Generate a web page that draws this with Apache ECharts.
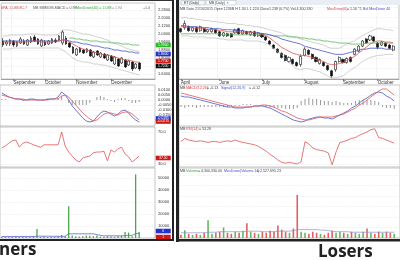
<!DOCTYPE html>
<html><head><meta charset="utf-8">
<script src="https://cdn.jsdelivr.net/npm/echarts@6/dist/echarts.min.js"></script>
<style>html,body{margin:0;padding:0;background:#fff}#c{width:400px;height:260px}</style>
</head><body><div id="c"></div>
<script>
// ---------- LEFT (gainer) ----------
const leftCatCount = 44;
const leftMonthLabels = ['September','October','November','December'];
const leftMonthIndex = [3,12,21,31];
const leftCandles = [
[1.97,1.93,1.91,2.00],[1.94,1.96,1.92,1.98],[1.94,1.98,1.92,1.99],[1.97,1.93,1.91,1.98],[1.92,1.96,1.91,1.97],
[1.95,1.99,1.94,2.01],[1.97,1.94,1.93,1.99],[1.93,1.98,1.92,1.99],[1.96,2.00,1.95,2.02],[2.01,1.97,1.96,2.03],
[1.99,1.94,1.93,2.00],[1.92,1.98,1.91,1.99],[1.96,1.93,1.92,1.98],[1.94,1.97,1.93,1.98],[1.95,1.99,1.94,2.00],
[1.98,1.96,1.95,2.00],[1.98,2.02,1.97,2.03],[1.95,2.06,1.93,2.08],[2.00,1.94,1.93,2.02],[1.95,1.91,1.90,1.96],
[1.91,1.85,1.84,1.92],[1.83,1.89,1.82,1.90],[1.90,1.86,1.85,1.91],[1.88,1.85,1.84,1.89],[1.86,1.89,1.85,1.90],
[1.88,1.82,1.81,1.89],[1.81,1.86,1.80,1.87],[1.87,1.83,1.82,1.88],[1.81,1.85,1.80,1.86],[1.84,1.80,1.79,1.85],
[1.78,1.83,1.77,1.84],[1.82,1.77,1.76,1.83],[1.74,1.81,1.73,1.82],[1.79,1.72,1.71,1.80],[1.75,1.80,1.74,1.81],
[1.78,1.71,1.70,1.79],[1.73,1.77,1.72,1.78],[1.76,1.69,1.67,1.77],[1.70,1.74,1.69,1.75],[1.75,1.69,1.67,1.76]
];
const leftMaShort = [1.96,1.96,1.96,1.96,1.96,1.96,1.96,1.96,1.97,1.97,1.97,1.96,1.96,1.96,1.96,1.97,1.97,1.98,1.98,1.96,
1.94,1.92,1.90,1.89,1.88,1.87,1.86,1.85,1.84,1.83,1.83,1.82,1.81,1.80,1.79,1.78,1.78,1.77,1.76,1.76];
const leftMaMid = [1.97,1.97,1.97,1.97,1.97,1.97,1.97,1.97,1.97,1.97,1.97,1.97,1.97,1.97,1.97,1.97,1.97,1.98,1.98,1.97,
1.96,1.96,1.95,1.94,1.94,1.93,1.92,1.92,1.91,1.90,1.90,1.89,1.88,1.88,1.87,1.87,1.86,1.86,1.85,1.85];
const leftMaLong = [null,null,null,null,null,null,null,null,null,null,null,null,null,null,null,null,null,null,null,
2.00,2.00,1.99,1.99,1.98,1.98,1.97,1.97,1.97,1.96,1.96,1.96,1.95,1.95,1.95,1.94,1.94,1.94,1.93,1.93,1.93];
const leftUpper = [2.02,2.02,2.03,2.03,2.03,2.03,2.03,2.04,2.04,2.04,2.04,2.03,2.03,2.03,2.03,2.03,2.04,2.08,2.08,2.08,
2.07,2.06,2.05,2.04,2.04,2.03,2.02,2.01,2.00,1.99,1.98,1.96,1.95,1.93,1.92,1.90,1.89,1.88,1.87,1.86];
const leftLower = [1.89,1.89,1.89,1.90,1.90,1.90,1.90,1.90,1.90,1.90,1.90,1.90,1.90,1.90,1.90,1.90,1.90,1.88,1.86,1.83,
1.80,1.78,1.77,1.76,1.76,1.75,1.74,1.74,1.73,1.73,1.72,1.71,1.70,1.69,1.68,1.67,1.66,1.65,1.64,1.63];
const leftPriceTicks = [2.28,2.20,2.12,2.04,1.96,1.88,1.80,1.72,1.64];
const leftPriceTags = [1.93,1.84,1.77,1.72]; // green, blue, red, black tags
const leftMacd = [0.007,0.005,0.003,0.002,0.001,0.001,0,0,0.001,0.001,0,0,0,0.001,0.001,0.001,0.003,0.008,0.005,0,
-0.006,-0.010,-0.014,-0.018,-0.021,-0.022,-0.021,-0.017,-0.013,-0.011,-0.012,-0.014,-0.016,-0.014,-0.011,-0.010,-0.013,-0.017,-0.020,-0.022];
const leftSignal = [0.005,0.004,0.003,0.002,0.001,0.001,0.001,0,0,0,0,0,0,0,0.001,0.001,0.001,0.004,0.005,0.003,
-0.001,-0.005,-0.009,-0.013,-0.016,-0.019,-0.021,-0.020,-0.017,-0.014,-0.013,-0.013,-0.014,-0.015,-0.013,-0.012,-0.012,-0.014,-0.017,-0.020];
const leftHist = [0.001,0.001,0,0,0,0,-0.001,0,0.001,0.001,0,0,0,0.001,0,0,0.002,0.004,0,-0.003,
-0.005,-0.005,-0.005,-0.005,-0.005,-0.003,0,0.003,0.004,0.003,0.001,-0.001,-0.002,0.001,0.002,0.002,-0.001,-0.003,-0.003,-0.002];
const leftMacdTicks = [0.010,0.005,0,-0.005,-0.010,-0.015];
const leftMacdTags = [-0.0185,-0.0215];
const leftRsi = [50,52.5,56,59,60,51,56,57.5,56,54,52.5,51,54,54,54,54,54,70,52.5,45,
40,35,32.5,37.5,39,40,44,45,45,46,34,47.5,45,49,51,42.5,39,32.5,36,40];
const leftRsiTicks = [70,30];
const leftRsiTag = 37.5;
const leftVolume = [1,1.2,0.8,1,1.5,1,1.2,1,0.8,1.5,7.5,1,1.2,0.8,1,1,1.5,2.5,1.5,26.5,
2,1.5,1.2,1.5,2,1.8,1.5,2,1.2,1,1.5,1.2,1,1.5,2,5,4.5,1.5,53,5];
const leftVolMa = [1.3,1.3,1.3,1.3,1.3,1.3,1.3,1.3,1.3,1.3,1.5,1.5,1.5,1.5,1.4,1.4,1.4,1.4,1.4,3.5,
3.5,3.5,3.5,3.5,3.5,3.5,3.5,2.8,2.2,1.8,1.8,1.8,1.8,1.8,1.8,2,2.2,2.2,3.5,4];
const leftVolTicks = [50,40,30,20,10];
const leftVolTags = [5.8,0.8];

// ---------- RIGHT (loser) ----------
const rightCatCount = 57;
const rightMonthLabels = ['April','June','July','August','September','October'];
const rightMonthIndex = [0,10,21,32,42,51];
const rightCandles = [
[1.49,1.46,1.45,1.50],[1.50,1.54,1.48,1.57],[1.51,1.47,1.46,1.52],[1.47,1.50,1.46,1.51],[1.50,1.46,1.45,1.51],
[1.47,1.51,1.46,1.52],[1.49,1.46,1.45,1.50],[1.46,1.48,1.45,1.49],[1.46,1.49,1.45,1.50],[1.48,1.45,1.44,1.49],
[1.46,1.42,1.41,1.47],[1.42,1.45,1.41,1.46],[1.44,1.42,1.41,1.45],[1.44,1.41,1.40,1.45],[1.45,1.48,1.44,1.49],
[1.49,1.44,1.43,1.50],[1.44,1.47,1.43,1.48],[1.46,1.44,1.43,1.47],[1.43,1.46,1.42,1.47],[1.46,1.42,1.41,1.47],
[1.42,1.45,1.41,1.46],[1.44,1.41,1.40,1.45],[1.41,1.38,1.37,1.42],[1.37,1.34,1.33,1.38],[1.33,1.30,1.29,1.34],
[1.29,1.26,1.25,1.30],[1.25,1.21,1.20,1.26],[1.23,1.18,1.17,1.24],[1.17,1.21,1.16,1.22],[1.19,1.15,1.14,1.20],
[1.16,1.13,1.12,1.17],[1.14,1.22,1.12,1.24],[1.23,1.29,1.22,1.31],[1.28,1.24,1.23,1.29],[1.24,1.20,1.19,1.25],
[1.21,1.17,1.16,1.22],[1.15,1.19,1.14,1.20],[1.16,1.13,1.12,1.17],[1.13,1.09,1.08,1.14],[1.08,1.03,1.01,1.09],
[1.09,1.17,1.07,1.18],[1.17,1.21,1.16,1.22],[1.19,1.16,1.15,1.20],[1.16,1.20,1.15,1.21],[1.21,1.17,1.16,1.22],
[1.24,1.29,1.23,1.30],[1.27,1.32,1.26,1.33],[1.32,1.37,1.31,1.38],[1.39,1.35,1.34,1.40],[1.38,1.42,1.37,1.43],
[1.41,1.37,1.36,1.42],[1.35,1.31,1.29,1.36],[1.33,1.36,1.32,1.37],[1.35,1.32,1.31,1.36],[1.33,1.30,1.29,1.34],
[1.28,1.32,1.27,1.33]
];
const rightMaShort = [1.51,1.51,1.50,1.50,1.49,1.49,1.49,1.48,1.48,1.48,1.47,1.47,1.46,1.46,1.46,1.46,1.45,1.45,1.45,1.45,
1.44,1.44,1.42,1.40,1.37,1.34,1.31,1.29,1.27,1.25,1.24,1.23,1.23,1.22,1.21,1.19,1.18,1.17,1.15,1.14,
1.14,1.15,1.16,1.18,1.20,1.22,1.25,1.28,1.31,1.34,1.36,1.37,1.37,1.36,1.36,1.35];
const rightMaMid = [1.52,1.52,1.51,1.51,1.51,1.50,1.50,1.50,1.49,1.49,1.49,1.48,1.48,1.48,1.47,1.47,1.47,1.46,1.46,1.45,
1.45,1.44,1.44,1.43,1.42,1.41,1.39,1.38,1.37,1.36,1.35,1.34,1.32,1.31,1.30,1.29,1.28,1.27,1.26,1.25,
1.24,1.24,1.24,1.25,1.26,1.27,1.28,1.29,1.29,1.30,1.30,1.30,1.30,1.29,1.29,1.29];
const rightMaLong = [1.44,1.44,1.44,1.44,1.44,1.44,1.44,1.44,1.44,1.44,1.44,1.43,1.43,1.43,1.43,1.43,1.43,1.43,1.43,1.43,
1.43,1.43,1.43,1.43,1.42,1.42,1.42,1.42,1.41,1.41,1.41,1.40,1.40,1.39,1.39,1.38,1.38,1.37,1.37,1.36,
1.36,1.35,1.35,1.35,1.34,1.34,1.34,1.34,1.35,1.35,1.35,1.35,1.35,1.35,1.35,1.35];
const rightUpper = [1.59,1.60,1.59,1.59,1.58,1.58,1.57,1.57,1.56,1.56,1.55,1.55,1.54,1.54,1.54,1.53,1.53,1.52,1.52,1.51,
1.51,1.50,1.49,1.48,1.47,1.46,1.45,1.43,1.42,1.41,1.40,1.39,1.38,1.37,1.36,1.35,1.34,1.33,1.31,1.30,
1.30,1.30,1.32,1.34,1.36,1.37,1.40,1.42,1.44,1.46,1.48,1.49,1.49,1.48,1.48,1.47];
const rightLower = [1.42,1.42,1.42,1.41,1.41,1.41,1.41,1.40,1.40,1.40,1.39,1.39,1.38,1.38,1.38,1.38,1.38,1.37,1.37,1.37,
1.37,1.36,1.35,1.33,1.30,1.27,1.24,1.20,1.16,1.13,1.10,1.09,1.10,1.10,1.09,1.08,1.07,1.05,1.03,1.01,
1.01,1.02,1.03,1.06,1.09,1.11,1.14,1.17,1.19,1.21,1.22,1.23,1.23,1.24,1.24,1.24];
const rightMacd = [0.009,0.008,0.008,0.007,0.006,0.005,0.004,0.003,0.002,0.001,0,-0.001,-0.002,-0.002,-0.003,-0.003,-0.003,-0.002,-0.002,-0.001,
-0.001,-0.001,-0.002,-0.003,-0.005,-0.007,-0.009,-0.011,-0.013,-0.015,-0.016,-0.017,-0.016,-0.014,-0.013,-0.012,-0.012,-0.013,-0.013,-0.014,
-0.012,-0.010,-0.008,-0.006,-0.003,-0.001,0.002,0.005,0.007,0.010,0.012,0.013,0.012,0.009,0.007,0.004];
const rightSignal = [0.012,0.011,0.010,0.009,0.008,0.007,0.006,0.005,0.004,0.003,0.002,0.001,0,-0.001,-0.002,-0.002,-0.002,-0.002,-0.002,-0.001,
-0.001,0,0,-0.001,-0.002,-0.004,-0.006,-0.007,-0.009,-0.011,-0.013,-0.014,-0.015,-0.015,-0.014,-0.013,-0.012,-0.012,-0.012,-0.012,
-0.011,-0.010,-0.009,-0.007,-0.005,-0.003,0,0.002,0.005,0.008,0.011,0.014,0.016,0.016,0.013,0.010];
const rightHist = [-0.002,-0.003,-0.002,-0.002,-0.003,-0.002,-0.002,-0.002,-0.002,-0.002,-0.002,-0.002,-0.002,-0.001,-0.001,-0.001,0.001,0.001,0.001,0,
0,-0.001,-0.002,-0.002,-0.003,-0.003,-0.003,-0.004,-0.004,-0.004,-0.003,0.004,0.006,0.007,0.006,0.006,0.005,0.004,0.004,0.003,
0.004,0.003,0.002,0.002,0.002,0.004,0.005,0.005,0.005,0.005,0.004,0.003,-0.002,-0.003,-0.003,-0.004];
const rightRsi = [58,62,60,59,58,59,58,57,58,58,57,58,59,58,60,58,57,56,55,54,
52,49,46,42,39,35,32,31,32,31,30,33,58,55,50,48,47,46,44,29,
45,57,58,60,62,63,66,68,70,73,74,63,62,60,58,56];
const rightVolume = [3,7.5,4,3,4,3,5,17,4,5,6,10,5,4,6,5,7,14,6,5,
4,6,5,7,6,12,8,6,5,9,41,6,5,4,6,5,4,3,5,7,
5,6,5,4,6,5,4,6,9,5,4,6,5,6,5,4];
const rightVolMa = [5,5,5,5,5,5,5,5.5,5.5,5.5,6,6,6,6,6,6,6,6.5,6.5,6.5,
6.5,6,6,6,6,6.5,6.5,6.5,6.5,7,8,8,8,8,8,8,7.5,7.5,7,6.5,
6,6,6,6,5.5,5.5,5.5,5.5,5.5,5.5,5.5,5.5,5.5,5.5,5.5,5.5];

// ---------- build ----------
function cats(n, labels, idx){ const a = new Array(n).fill(''); idx.forEach((k,j)=>{a[k]=labels[j];}); return a; }
const leftCats = cats(leftCatCount, leftMonthLabels, leftMonthIndex);
const rightCats = cats(rightCatCount, rightMonthLabels, rightMonthIndex);

const C_UP='#ffffff', C_DN='#111111', C_RED='#e05555', C_BLUE='#4655c8', C_GREEN='#5cb85c', C_GRAY='#b4b4b4';
const FONT='"Liberation Sans", Arial, sans-serif';

const L = {left:0, width:155}, R = {left:179, width:224};
const rows = [{top:3,height:76},{top:85,height:41},{top:127,height:40},{top:168,height:70}];
const grids = [];
[L,R].forEach(side=>rows.forEach(r=>grids.push({left:side.left,width:side.width,top:r.top,height:r.height,show:true,borderColor:'#a0a0a0',borderWidth:0.6,backgroundColor:'#fff'})));

function xAx(gi, data, withLabels){
  const o = {type:'category', gridIndex:gi, data:data, boundaryGap:true};
  if(withLabels){
    o.axisLine={show:true,lineStyle:{color:'#777',width:0.6}};
    o.axisTick={show:true,alignWithLabel:true,length:2,interval:(i,v)=>v!=='',lineStyle:{color:'#555',width:0.6}};
    o.axisLabel={show:true,interval:0,align:'left',fontSize:4.5,margin:1.5,color:'#333',fontFamily:FONT};
    o.splitLine={show:true,interval:(i,v)=>v!=='',lineStyle:{color:'#dcdcdc',type:'dotted',width:0.6}};
  } else {
    o.axisLine={show:false}; o.axisTick={show:false}; o.axisLabel={show:false}; o.splitLine={show:false};
  }
  return o;
}
function yAx(gi, min, max, ticks, fmt, labels){
  const o = {type:'value', gridIndex:gi, min:min, max:max, position:'right', scale:true,
    axisLine:{show:false}, splitLine:{show:true,lineStyle:{color:'#e4e4e4',type:'dotted',width:0.6}}};
  if(labels){
    o.axisTick={show:false,customValues:ticks};
    o.axisLabel={show:true,customValues:ticks,formatter:fmt,fontSize:4,margin:3,color:'#333',fontFamily:FONT};
  } else {
    o.axisTick={show:false}; o.axisLabel={show:false};
  }
  return o;
}
const xAxis = [
  xAx(0,leftCats,true), xAx(1,leftCats,false), xAx(2,leftCats,false), xAx(3,leftCats,false),
  xAx(4,rightCats,true), xAx(5,rightCats,false), xAx(6,rightCats,false), xAx(7,rightCats,false)
];
const f4 = v=>v.toFixed(4), f1 = v=>v.toFixed(1), fv = v=>String(v*1000);
const yAxis = [
  yAx(0,1.59,2.35,leftPriceTicks,f4,true),
  yAx(1,-0.026,0.015,leftMacdTicks,f4,true),
  yAx(2,26.25,76.25,leftRsiTicks,f1,true),
  yAx(3,0,58.3,leftVolTicks,fv,true),
  yAx(4,1.00,1.74,null,null,false),
  yAx(5,-0.021,0.020,null,null,false),
  yAx(6,26.25,76.25,null,null,false),
  yAx(7,0,66.7,null,null,false)
];

function tag(xIndex, val, color, digits){
  return {symbol:'rect', symbolSize:[15,4.6], symbolOffset:[10,0], silent:true, animation:false,
    label:{show:true,position:'inside',fontSize:3.4,color:'#fff',fontFamily:FONT,formatter:p=>p.value.toFixed(digits)},
    data:[{coord:[xIndex,val], value:val, itemStyle:{color:color}}]};
}
function line(xi, data, color, w, extra){
  return Object.assign({type:'line', xAxisIndex:xi, yAxisIndex:xi, data:data, symbol:'none', silent:true,
    lineStyle:{color:color,width:w}, connectNulls:false, z:3}, extra||{});
}
const candleStyle = {color:C_UP,color0:C_DN,borderColor:'#111',borderColor0:'#111',borderWidth:0.6};
const lastL = leftCatCount-1;

const series = [
  {type:'candlestick', xAxisIndex:0, yAxisIndex:0, data:leftCandles, barWidth:2.2, itemStyle:candleStyle, z:2,
    markPoint:tag(lastL,leftPriceTags[3],'#111',4)},
  line(0,leftUpper,C_GRAY,0.6), line(0,leftLower,C_GRAY,0.6),
  line(0,leftMaLong,C_GREEN,0.8,{markPoint:tag(lastL,leftPriceTags[0],'#22bb22',4)}),
  line(0,leftMaMid,C_BLUE,0.8,{markPoint:tag(lastL,leftPriceTags[1],'#2233cc',4)}),
  line(0,leftMaShort,C_RED,0.8,{markPoint:tag(lastL,leftPriceTags[2],'#cc1818',4)}),

  {type:'bar', xAxisIndex:1, yAxisIndex:1, data:leftHist, barWidth:1, itemStyle:{color:'#9a9a9a'}, silent:true},
  line(1,leftMacd,C_BLUE,0.8,{markPoint:tag(lastL,leftMacdTags[0],'#2233cc',4)}),
  line(1,leftSignal,C_RED,0.8,{markPoint:tag(lastL,leftMacdTags[1],'#cc1818',4)}),

  line(2,leftRsi,C_RED,0.8,{markPoint:tag(lastL,leftRsiTag,'#cc1818',2)}),

  {type:'bar', xAxisIndex:3, yAxisIndex:3, data:leftVolume, barWidth:1.3, itemStyle:{color:'#49a84a'}, silent:true,
    markPoint:tag(lastL,leftVolTags[1],'#cc1818',0)},
  line(3,leftVolMa,'#5a66d0',0.8,{markPoint:tag(lastL,leftVolTags[0],'#2233cc',0)}),

  {type:'candlestick', xAxisIndex:4, yAxisIndex:4, data:rightCandles, barWidth:2.6, itemStyle:candleStyle, z:2},
  line(4,rightUpper,C_GRAY,0.6), line(4,rightLower,C_GRAY,0.6),
  line(4,rightMaLong,C_GREEN,0.8), line(4,rightMaMid,C_BLUE,0.8), line(4,rightMaShort,C_RED,0.8),

  {type:'bar', xAxisIndex:5, yAxisIndex:5, data:rightHist, barWidth:1, itemStyle:{color:'#9a9a9a'}, silent:true},
  line(5,rightMacd,C_BLUE,0.8), line(5,rightSignal,C_RED,0.8),

  line(6,rightRsi,C_RED,0.8),

  {type:'bar', xAxisIndex:7, yAxisIndex:7, barWidth:1.6, silent:true,
    data:rightVolume.map((v,i)=>({value:v,itemStyle:{color: rightCandles[i][1]>=rightCandles[i][0] ? '#62b862' : '#e06060'}}))},
  line(7,rightVolMa,'#8a90c8',0.7)
];

function txt(x,y,t,fill,size){ return {type:'text', x:x, y:y, silent:true, z:100,
  style:{text:t, fill:fill, font:(size||3.6)+'px '+FONT, textVerticalAlign:'middle'}}; }
const graphic = [
  {type:'rect', shape:{x:0,y:0,width:173,height:1}, style:{fill:'#333'}, silent:true, z:90},
  {type:'rect', shape:{x:172,y:0,width:2,height:241}, style:{fill:'#222'}, silent:true, z:90},
  {type:'rect', shape:{x:0,y:239,width:174,height:2}, style:{fill:'#222'}, silent:true, z:90},
  {type:'rect', shape:{x:176,y:0,width:3,height:242}, style:{fill:'#222'}, silent:true, z:90},
  {type:'rect', shape:{x:176,y:239,width:224,height:2.5}, style:{fill:'#222'}, silent:true, z:90},
  {type:'rect', shape:{x:179,y:0,width:221,height:5}, style:{fill:'#e9edf4'}, silent:true, z:90},
  {type:'rect', shape:{x:181,y:0.5,width:24,height:4.5}, style:{fill:'#f6f6f6',stroke:'#9aa',lineWidth:0.4}, silent:true, z:91},
  {type:'rect', shape:{x:206,y:0.5,width:30,height:4.5}, style:{fill:'#ffffff',stroke:'#9aa',lineWidth:0.4}, silent:true, z:91},
  txt(184,2.8,'ET (Daily)','#335',3.4), txt(209,2.8,'MB (Daily)  ×','#335',3.4),
  // left legend
  txt(1,8,'0PA, 2,038.8C.7','#b04444'), txt(33,8,'MB MBMOM-MACD = 0.98','#555'),
  txt(76,8,'MovDown(40) = 2.038','#3aa03a'), txt(112,8,'= 1.94','#888'), txt(143,8,'+1.0','#555'),
  // right legend
  txt(180,8.5,'MB Date 21/10/2015 Open 1236B H 1.30 L 1.224 Close1.238 (0.7%) Vol 4,300,330','#444'),
  txt(327,8.5,'MovDown(6)','#e04040'), txt(347,8.5,'= 1.16 *2','#444'), txt(363,8.5,'Bol MovDown 40','#4050c0'),
  txt(180,87.5,'MB','#444'), txt(186,87.5,'MACD(12,26)','#d04040'), txt(207,87.5,'= -0.13','#444'),
  txt(221,87.5,'Signal(12,26,9)','#4050c0'), txt(249,87.5,'= -0.12','#444'),
  txt(180,129,'MB','#444'), txt(186,129,'RSI(14)','#d04040'), txt(199,129,'= 53.28','#444'),
  txt(180,170.5,'MB','#444'), txt(186,170.5,'Volume','#3aa03a'), txt(198,170.5,'= 4,300,330.00','#444'),
  txt(224,170.5,'MovDown(Volume,14)','#4050c0'), txt(257,170.5,'= 2,527,695.23','#444'),
  // captions
  {type:'text', x:-1, y:242, silent:true, z:100, style:{text:'ners', fill:'#222', font:'bold 17px "Open Sans"', textVerticalAlign:'top'}},
  {type:'text', x:318, y:244, silent:true, z:100, style:{text:'Losers', fill:'#222', font:'bold 17px "Open Sans"', textVerticalAlign:'top'}}
];

const chart = echarts.init(document.getElementById('c'), null, {renderer:'canvas'});
chart.setOption({animation:false, backgroundColor:'#fff', grid:grids, xAxis:xAxis, yAxis:yAxis, series:series, graphic:graphic, tooltip:{show:false}});
</script></body></html>
